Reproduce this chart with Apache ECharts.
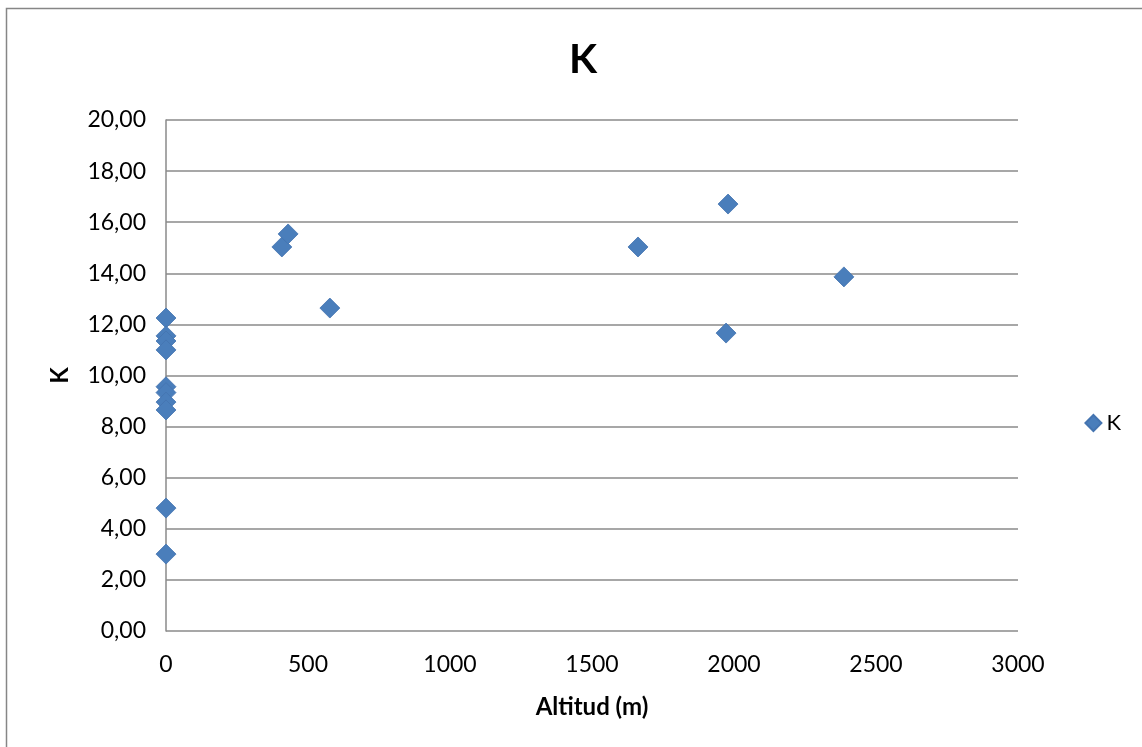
<!DOCTYPE html>
<html>
<head>
<meta charset="utf-8">
<script src="https://cdn.jsdelivr.net/npm/echarts@6/dist/echarts.min.js"></script>
<style>
  html, body { margin: 0; padding: 0; background: #fff; }
  #chart { width: 1142px; height: 747px; }
</style>
</head>
<body>
<div id="chart"></div>
<script>
// Altitude (m) of each sampling site and its K value
const altitude = [0, 0, 0, 0, 0, 0, 0, 0, 0, 0, 408, 430, 577, 1662, 1979, 1972, 2387];
const kValues  = [12.25, 11.55, 11.35, 11.0, 9.56, 9.33, 8.96, 8.65, 4.81, 3.01, 15.03, 15.54, 12.64, 15.03, 16.71, 11.66, 13.86];

const seriesName = 'K';
const chartTitle = 'K';
const xAxisTitle = 'Altitud (m)';
const yAxisTitle = 'K';

const points = altitude.map((a, i) => [a, kValues[i]]);

const font = 'Lato, "Open Sans", sans-serif';
const chart = echarts.init(document.getElementById('chart'));

chart.setOption({
  animation: false,
  backgroundColor: '#ffffff',
  title: {
    text: chartTitle,
    left: 578, top: 34, textAlign: 'center',
    textStyle: { fontFamily: font, fontSize: 41, fontWeight: 'bold', color: '#000' }
  },
  legend: {
    data: [{ name: seriesName, icon: 'diamond' }],
    right: 16, top: 407,
    itemWidth: 16, itemHeight: 16, itemGap: 6,
    textStyle: { fontFamily: font, fontSize: 22, color: '#000' }
  },
  grid: { left: 166, right: 124, top: 120, bottom: 116, containLabel: false },
  xAxis: {
    type: 'value', min: 0, max: 3000, interval: 500,
    name: xAxisTitle, nameLocation: 'middle', nameGap: 64,
    nameTextStyle: { fontFamily: font, fontSize: 24, fontWeight: 'bold', color: '#000' },
    axisLine: { show: false },
    axisTick: { show: false },
    axisLabel: { fontFamily: font, fontSize: 23, color: '#000', margin: 22, formatter: v => String(v) },
    splitLine: { show: false }
  },
  yAxis: {
    type: 'value', min: 0, max: 20, interval: 2,
    name: yAxisTitle, nameLocation: 'middle', nameGap: 94,
    nameTextStyle: { fontFamily: font, fontSize: 24, fontWeight: 'bold', color: '#000' },
    axisLine: { show: true, lineStyle: { color: '#8a8a8a', width: 1.5 } },
    axisTick: { show: false },
    axisLabel: {
      fontFamily: font, fontSize: 23, color: '#000', margin: 20,
      formatter: v => v.toFixed(2).replace('.', ',')
    },
    splitLine: { show: true, lineStyle: { color: '#8a8a8a', width: 1.5 } }
  },
  series: [{
    name: seriesName,
    type: 'scatter',
    data: points,
    symbol: 'diamond',
    symbolSize: 20,
    itemStyle: { color: '#4a7ebb', opacity: 1, borderColor: '#4474b0', borderWidth: 0.8 }
  }],
  graphic: [{
    type: 'rect',
    shape: { x: 6.5, y: 8.5, width: 1160, height: 760 },
    style: { fill: null, stroke: '#868686', lineWidth: 1.5 },
    silent: true
  }]
});
</script>
</body>
</html>
